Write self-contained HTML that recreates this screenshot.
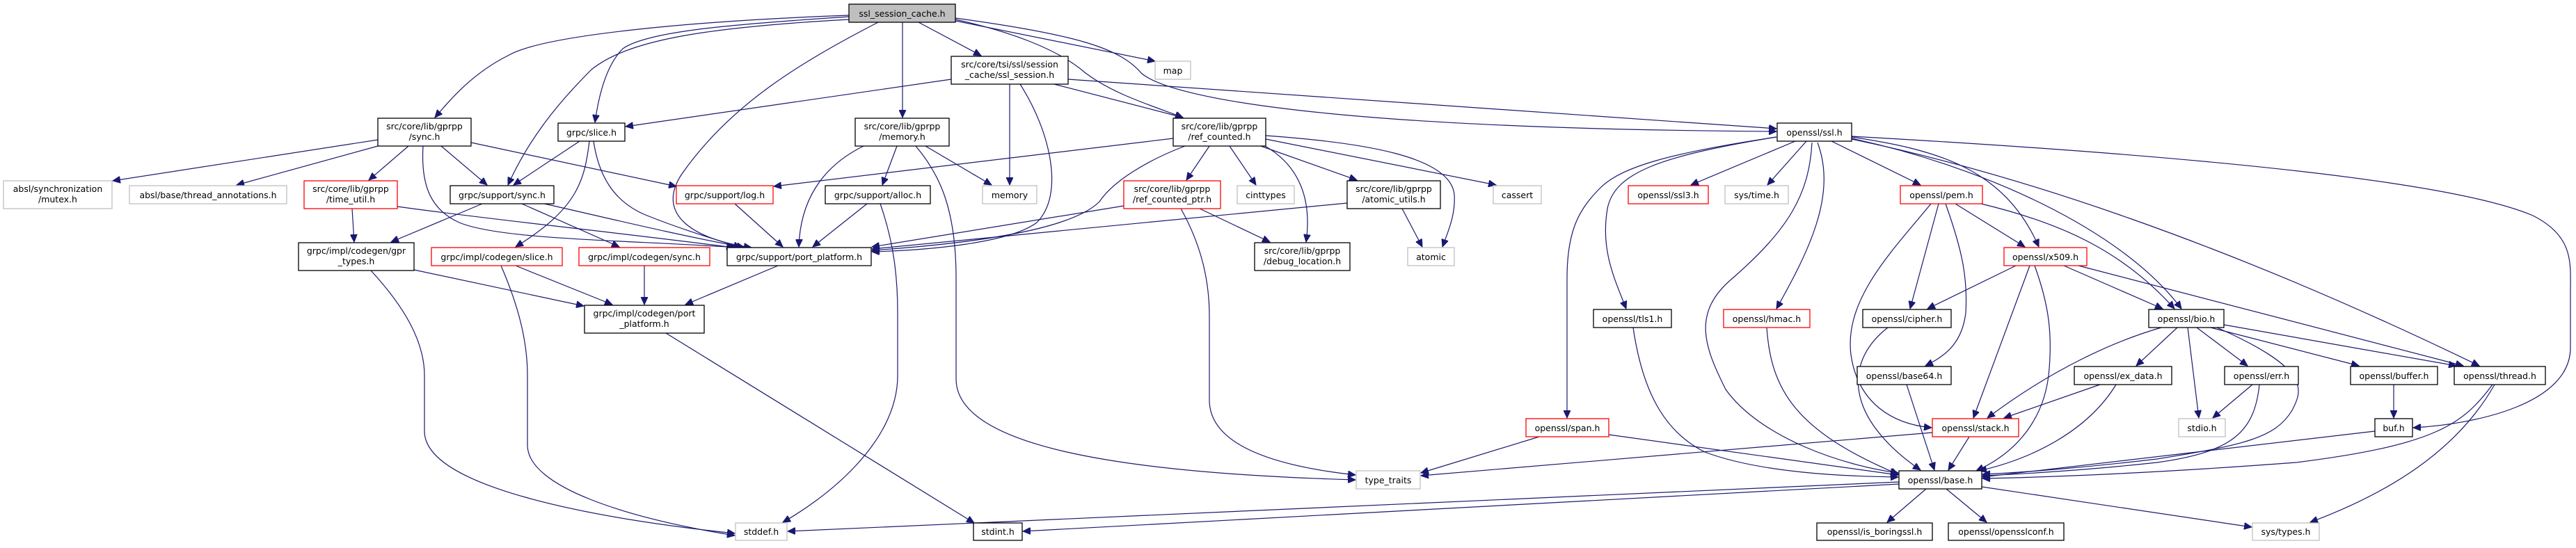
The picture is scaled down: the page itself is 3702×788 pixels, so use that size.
<!DOCTYPE html>
<html><head><meta charset="utf-8"><style>
html,body{margin:0;padding:0;background:#fff;}
svg text{font-family:"DejaVu Sans","Liberation Sans",sans-serif;font-size:12.5px;fill:#000;text-anchor:middle;}
</style></head><body>
<svg width="3702" height="783" viewBox="0 0 3702 783" xmlns="http://www.w3.org/2000/svg">
<defs>
<marker id="a" markerWidth="12" markerHeight="10" refX="11" refY="5" orient="auto" markerUnits="userSpaceOnUse">
<path d="M0,0 L11,5 L0,10 Z" fill="#191970" stroke="#191970"/>
</marker>
</defs>
<g fill="none" stroke="#191970" stroke-width="1.2" marker-end="url(#a)">
<!-- root -->
<path d="M1220,22 C1000,30 780,50 730,80 C680,105 650,140 625,169"/>
<path d="M1220,24 C1050,35 930,45 895,70 C870,95 860,140 855,176"/>
<path d="M1220,28 C1000,40 900,60 850,100 C800,150 760,200 730,266"/>
<path d="M1262,32 C1150,90 1050,150 980,250 C940,310 1000,345 1080,356"/>
<path d="M1297,32 L1297,169"/>
<path d="M1320,32 L1410,80"/>
<path d="M1373,30 L1660,88"/>
<path d="M1373,28 C1450,45 1520,70 1560,105 C1600,135 1650,150 1700,169"/>
<path d="M1373,26 C1550,50 1610,70 1640,105 C1680,140 1900,185 2553,189"/>
<!-- ssl_session.h -->
<path d="M1367,114 L899,182"/>
<path d="M1451,121 L1451,266"/>
<path d="M1466,121 C1510,190 1530,280 1490,320 C1450,350 1330,360 1253,362"/>
<path d="M1515,121 L1700,169"/>
<path d="M1535,114 L2553,185"/>
<!-- gprpp sync.h -->
<path d="M543,201 L162,260"/>
<path d="M543,210 L340,266"/>
<path d="M587,210 L530,259"/>
<path d="M634,210 L700,266"/>
<path d="M677,205 L972,268"/>
<path d="M608,210 C605,260 615,300 660,320 C720,345 900,345 1060,356"/>
<!-- time_util -->
<path d="M571,297 C700,315 850,330 1055,356"/>
<path d="M506,300 L509,348"/>
<!-- grpc/slice.h -->
<path d="M833,203 L738,266"/>
<path d="M847,203 C840,260 830,300 741,355"/>
<path d="M853,203 C860,250 880,290 930,310 C980,330 1030,345 1065,356"/>
<!-- grpc/support/sync.h -->
<path d="M693,293 L562,348"/>
<path d="M750,293 L890,355"/>
<path d="M778,292 C880,315 960,335 1070,356"/>
<!-- gpr_types -->
<path d="M595,388 L839,440"/>
<path d="M533,389 C580,440 610,490 610,540 L610,620 C610,700 850,745 1056,767"/>
<!-- codegen slice -->
<path d="M741,382 L880,438"/>
<path d="M720,382 C745,440 758,490 758,540 L758,640 C758,700 900,745 1056,770"/>
<path d="M926,382 L926,438"/>
<path d="M1118,382 L985,438"/>
<path d="M957,479 L1400,752"/>
<path d="M1056,293 L1125,355"/>
<!-- memory.h -->
<path d="M1241,210 C1180,240 1150,290 1148,355"/>
<path d="M1289,210 L1268,266"/>
<path d="M1330,210 L1425,266"/>
<path d="M1316,210 C1350,250 1374,300 1374,400 L1374,545 C1374,640 1600,680 1948,690"/>
<path d="M1246,293 L1168,355"/>
<path d="M1265,293 C1285,350 1290,400 1290,450 L1290,540 C1290,640 1180,720 1125,751"/>
<!-- ref_counted.h -->
<path d="M1686,199 L1112,268"/>
<path d="M1703,210 C1650,230 1600,260 1580,290 C1540,330 1400,350 1253,360"/>
<path d="M1738,210 L1705,259"/>
<path d="M1767,210 L1805,266"/>
<path d="M1818,210 C1870,240 1885,290 1877,348"/>
<path d="M1812,210 L1950,259"/>
<path d="M1819,200 L2150,266"/>
<path d="M1819,195 C1960,205 2085,225 2090,280 C2092,310 2080,335 2073,355"/>
<path d="M1615,296 L1253,355"/>
<path d="M1724,300 L1825,348"/>
<path d="M1697,300 C1725,350 1738,400 1738,455 L1738,575 C1738,640 1830,670 1948,683"/>
<path d="M1936,292 L1253,358"/>
<path d="M2015,300 L2044,355"/>
<!-- ssl.h -->
<path d="M2580,203 L2430,266"/>
<path d="M2596,203 L2540,266"/>
<path d="M2553,197 C2400,220 2330,240 2300,270 C2270,300 2252,330 2252,400 L2252,601"/>
<path d="M2553,197 C2380,225 2320,250 2310,300 C2300,360 2320,400 2337,444"/>
<path d="M2604,205 C2600,280 2570,330 2490,400 C2430,450 2450,500 2480,560 C2530,630 2650,670 2728,680"/>
<path d="M2612,205 C2640,280 2600,360 2553,444"/>
<path d="M2632,203 L2760,266"/>
<path d="M2661,197 C2780,215 2880,240 2930,355"/>
<path d="M2661,199 C2850,240 3050,330 3135,444"/>
<path d="M2661,200 C2900,250 3200,350 3563,526"/>
<path d="M2661,196 C3000,215 3500,250 3640,310 C3700,340 3694,380 3694,420 L3694,500 C3694,580 3560,610 3468,615"/>
<!-- pem.h -->
<path d="M2786,293 L2745,444"/>
<path d="M2796,293 C2820,360 2828,400 2825,450 C2820,490 2800,510 2767,526"/>
<path d="M2810,293 L2910,355"/>
<path d="M2847,293 C2960,320 3050,360 3125,444"/>
<path d="M2775,293 C2720,360 2650,430 2660,510 C2670,580 2720,610 2776,615"/>
<!-- x509.h -->
<path d="M2897,382 L2770,444"/>
<path d="M2917,382 L2836,601"/>
<path d="M2924,382 C2945,440 2949,480 2945,530 C2940,600 2900,650 2840,677"/>
<path d="M2966,382 L3108,444"/>
<path d="M2987,382 L3540,526"/>
<!-- cipher / base64 -->
<path d="M2713,471 C2650,520 2650,600 2760,676"/>
<path d="M2740,553 L2780,676"/>
<!-- bio.h -->
<path d="M3106,471 C3040,490 2950,530 2856,601"/>
<path d="M3129,471 L3070,526"/>
<path d="M3144,471 L3160,601"/>
<path d="M3157,471 L3230,526"/>
<path d="M3177,471 L3390,526"/>
<path d="M3196,467 L3530,526"/>
<path d="M3186,471 C3320,530 3310,560 3294,590 C3270,630 3224,640 3100,660 C3000,672 2900,680 2849,682"/>
<path d="M3018,553 L2880,601"/>
<path d="M3041,553 C3000,620 2920,660 2844,677"/>
<path d="M3237,553 L3180,601"/>
<path d="M3247,553 C3240,620 3210,650 3100,665 C3000,676 2900,682 2849,684"/>
<path d="M3440,553 L3440,601"/>
<path d="M3413,620 L2849,686"/>
<path d="M3582,553 C3540,610 3500,640 3300,665 C3100,680 2950,686 2849,688"/>
<path d="M3585,553 C3530,650 3430,710 3320,751"/>
<path d="M2830,628 L2800,676"/>
<path d="M2777,622 L2042,684"/>
<path d="M2212,628 L2042,680"/>
<path d="M2312,625 L2728,683"/>
<path d="M2347,471 C2360,560 2390,620 2450,650 C2530,680 2650,685 2728,686"/>
<path d="M2539,471 C2545,560 2580,620 2728,682"/>
<!-- base.h -->
<path d="M2729,693 L1132,764"/>
<path d="M2729,696 L1470,764"/>
<path d="M2768,703 L2712,751"/>
<path d="M2797,703 L2855,751"/>
<path d="M2848,700 L3236,758"/>
</g>
<g stroke-width="1.3">
<rect x="1220" y="6" width="153" height="26" fill="#bfbfbf" stroke="#000"/><text x="1296.5" y="24">ssl_session_cache.h</text>
<rect x="1367" y="81" width="168" height="40" fill="#fff" stroke="#000"/><text x="1451" y="97">src/core/tsi/ssl/session</text><text x="1451" y="112">_cache/ssl_session.h</text>
<rect x="1660" y="88" width="51" height="26" fill="#fff" stroke="#bfbfbf"/><text x="1685.5" y="106">map</text>
<rect x="543" y="170" width="134" height="40" fill="#fff" stroke="#000"/><text x="610" y="186">src/core/lib/gprpp</text><text x="610" y="201">/sync.h</text>
<rect x="802" y="177" width="96" height="26" fill="#fff" stroke="#000"/><text x="850" y="195">grpc/slice.h</text>
<rect x="1229" y="170" width="135" height="40" fill="#fff" stroke="#000"/><text x="1296.5" y="186">src/core/lib/gprpp</text><text x="1296.5" y="201">/memory.h</text>
<rect x="1686" y="170" width="133" height="40" fill="#fff" stroke="#000"/><text x="1752.5" y="186">src/core/lib/gprpp</text><text x="1752.5" y="201">/ref_counted.h</text>
<rect x="2554" y="177" width="107" height="26" fill="#fff" stroke="#000"/><text x="2607.5" y="195">openssl/ssl.h</text>
<rect x="5" y="260" width="156" height="40" fill="#fff" stroke="#bfbfbf"/><text x="83" y="276">absl/synchronization</text><text x="83" y="291">/mutex.h</text>
<rect x="186" y="267" width="226" height="26" fill="#fff" stroke="#bfbfbf"/><text x="299" y="285">absl/base/thread_annotations.h</text>
<rect x="437" y="260" width="134" height="40" fill="#fff" stroke="#ff0000"/><text x="504" y="276">src/core/lib/gprpp</text><text x="504" y="291">/time_util.h</text>
<rect x="647" y="267" width="149" height="26" fill="#fff" stroke="#000"/><text x="721.5" y="285">grpc/support/sync.h</text>
<rect x="972" y="267" width="139" height="26" fill="#fff" stroke="#ff0000"/><text x="1041.5" y="285">grpc/support/log.h</text>
<rect x="1186" y="267" width="151" height="26" fill="#fff" stroke="#000"/><text x="1261.5" y="285">grpc/support/alloc.h</text>
<rect x="1412" y="267" width="78" height="26" fill="#fff" stroke="#bfbfbf"/><text x="1451" y="285">memory</text>
<rect x="1615" y="260" width="139" height="40" fill="#fff" stroke="#ff0000"/><text x="1684.5" y="276">src/core/lib/gprpp</text><text x="1684.5" y="291">/ref_counted_ptr.h</text>
<rect x="1778" y="267" width="82" height="26" fill="#fff" stroke="#bfbfbf"/><text x="1819" y="285">cinttypes</text>
<rect x="1936" y="260" width="134" height="40" fill="#fff" stroke="#000"/><text x="2003" y="276">src/core/lib/gprpp</text><text x="2003" y="291">/atomic_utils.h</text>
<rect x="2146" y="267" width="69" height="26" fill="#fff" stroke="#bfbfbf"/><text x="2180.5" y="285">cassert</text>
<rect x="2340" y="267" width="115" height="26" fill="#fff" stroke="#ff0000"/><text x="2397.5" y="285">openssl/ssl3.h</text>
<rect x="2479" y="267" width="91" height="26" fill="#fff" stroke="#bfbfbf"/><text x="2524.5" y="285">sys/time.h</text>
<rect x="2731" y="267" width="118" height="26" fill="#fff" stroke="#ff0000"/><text x="2790" y="285">openssl/pem.h</text>
<rect x="429" y="349" width="166" height="40" fill="#fff" stroke="#000"/><text x="512" y="365">grpc/impl/codegen/gpr</text><text x="512" y="380">_types.h</text>
<rect x="620" y="356" width="188" height="26" fill="#fff" stroke="#ff0000"/><text x="714" y="374">grpc/impl/codegen/slice.h</text>
<rect x="832" y="356" width="188" height="26" fill="#fff" stroke="#ff0000"/><text x="926" y="374">grpc/impl/codegen/sync.h</text>
<rect x="1045" y="356" width="207" height="26" fill="#fff" stroke="#000"/><text x="1148.5" y="374">grpc/support/port_platform.h</text>
<rect x="1803" y="349" width="137" height="40" fill="#fff" stroke="#000"/><text x="1871.5" y="365">src/core/lib/gprpp</text><text x="1871.5" y="380">/debug_location.h</text>
<rect x="2023" y="356" width="67" height="26" fill="#fff" stroke="#bfbfbf"/><text x="2056.5" y="374">atomic</text>
<rect x="2880" y="356" width="119" height="26" fill="#fff" stroke="#ff0000"/><text x="2939.5" y="374">openssl/x509.h</text>
<rect x="840" y="439" width="172" height="40" fill="#fff" stroke="#000"/><text x="926" y="455">grpc/impl/codegen/port</text><text x="926" y="470">_platform.h</text>
<rect x="2290" y="445" width="112" height="26" fill="#fff" stroke="#000"/><text x="2346" y="463">openssl/tls1.h</text>
<rect x="2477" y="445" width="124" height="26" fill="#fff" stroke="#ff0000"/><text x="2539" y="463">openssl/hmac.h</text>
<rect x="2677" y="445" width="127" height="26" fill="#fff" stroke="#000"/><text x="2740.5" y="463">openssl/cipher.h</text>
<rect x="3088" y="445" width="108" height="26" fill="#fff" stroke="#000"/><text x="3142" y="463">openssl/bio.h</text>
<rect x="2669" y="527" width="135" height="26" fill="#fff" stroke="#000"/><text x="2736.5" y="545">openssl/base64.h</text>
<rect x="2981" y="527" width="140" height="26" fill="#fff" stroke="#000"/><text x="3051" y="545">openssl/ex_data.h</text>
<rect x="3197" y="527" width="106" height="26" fill="#fff" stroke="#000"/><text x="3250" y="545">openssl/err.h</text>
<rect x="3378" y="527" width="125" height="26" fill="#fff" stroke="#000"/><text x="3440.5" y="545">openssl/buffer.h</text>
<rect x="3527" y="527" width="131" height="26" fill="#fff" stroke="#000"/><text x="3592.5" y="545">openssl/thread.h</text>
<rect x="2193" y="602" width="119" height="26" fill="#fff" stroke="#ff0000"/><text x="2252.5" y="620">openssl/span.h</text>
<rect x="2777" y="602" width="124" height="26" fill="#fff" stroke="#ff0000"/><text x="2839" y="620">openssl/stack.h</text>
<rect x="3131" y="602" width="67" height="26" fill="#fff" stroke="#bfbfbf"/><text x="3164.5" y="620">stdio.h</text>
<rect x="3413" y="602" width="54" height="26" fill="#fff" stroke="#000"/><text x="3440" y="620">buf.h</text>
<rect x="1949" y="677" width="92" height="26" fill="#fff" stroke="#bfbfbf"/><text x="1995" y="695">type_traits</text>
<rect x="2729" y="677" width="119" height="26" fill="#fff" stroke="#000"/><text x="2788.5" y="695">openssl/base.h</text>
<rect x="1057" y="752" width="74" height="25" fill="#fff" stroke="#bfbfbf"/><text x="1094" y="769">stddef.h</text>
<rect x="1399" y="752" width="70" height="25" fill="#fff" stroke="#000"/><text x="1434" y="769">stdint.h</text>
<rect x="2611" y="752" width="166" height="25" fill="#fff" stroke="#000"/><text x="2694" y="769">openssl/is_boringssl.h</text>
<rect x="2800" y="752" width="166" height="25" fill="#fff" stroke="#000"/><text x="2883" y="769">openssl/opensslconf.h</text>
<rect x="3237" y="752" width="96" height="25" fill="#fff" stroke="#bfbfbf"/><text x="3285" y="769">sys/types.h</text>
</g>
</svg>
</body></html>
